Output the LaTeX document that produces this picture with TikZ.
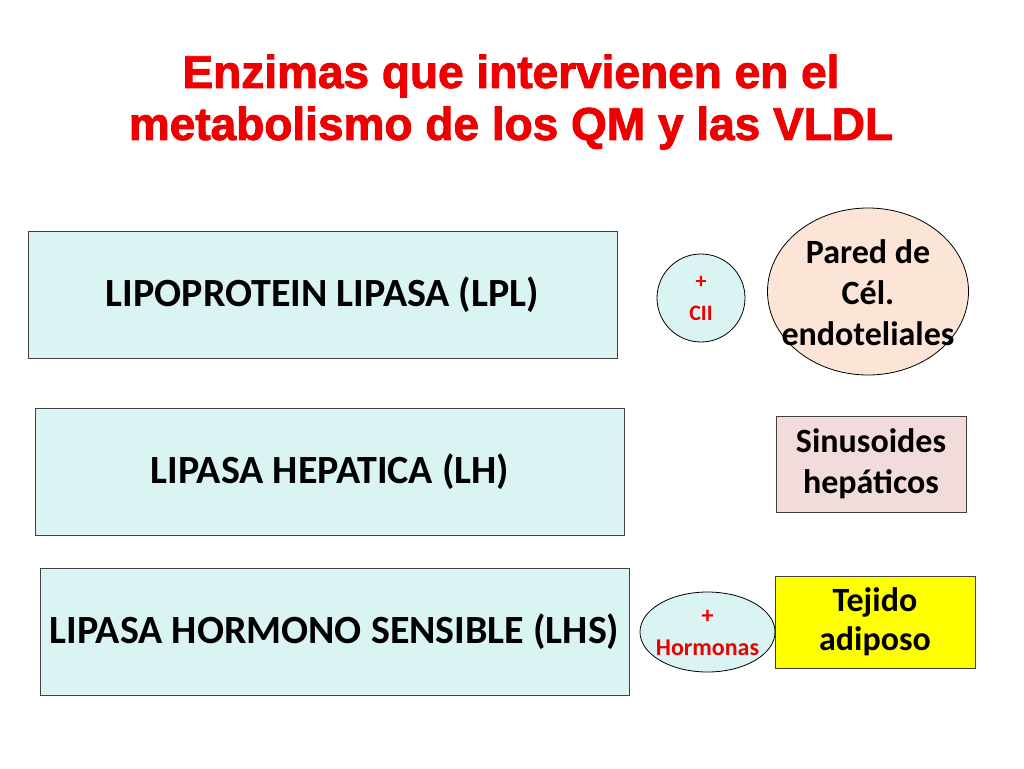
\documentclass[tikz,border=0pt]{standalone}
\usepackage{fontspec}
\setmainfont{Carlito}
\newfontfamily\titlefont{Liberation Sans Bold}[FakeBold=2]
\usetikzlibrary{shapes.geometric}
\definecolor{boxcyan}{RGB}{218,244,244}
\definecolor{peach}{RGB}{252,229,214}
\definecolor{pinkbox}{RGB}{242,220,219}
\definecolor{titlered}{RGB}{238,0,0}
\definecolor{yelbox}{RGB}{255,255,0}
\begin{document}
\begin{tikzpicture}[x=1pt,y=-1pt,
  enzbox/.style={draw=black!75,line width=1pt,fill=boxcyan,minimum width=589pt,minimum height=127pt,inner sep=0pt,font=\bfseries\fontsize{40}{48}\selectfont},
  placebox/.style={draw=black!75,line width=1pt,align=center,inner sep=0pt,font=\bfseries\fontsize{34}{41}\selectfont},
  cofactor/.style={draw=black,line width=0.8pt,fill=boxcyan,align=center,inner sep=0pt,text=titlered,font=\bfseries\fontsize{22}{32}\selectfont}]
\useasboundingbox (0,0) rectangle (1024,768);
\fill[white] (0,0) rectangle (1024,768);
\node[text=titlered,align=center,font=\titlefont\fontsize{46}{52}\selectfont] (title) at (511,102) {Enzimas que intervienen en el\\metabolismo de los QM y las VLDL};
\node[enzbox] (lpl) at (322.5,294.5) {LIPOPROTEIN LIPASA (LPL)};
\node[enzbox] (lh) at (330,472) {LIPASA HEPATICA (LH)};
\node[enzbox] (lhs) at (334.5,631.5) {LIPASA HORMONO SENSIBLE (LHS)};
\node[cofactor,circle,minimum size=88pt] (cii) at (701,298) {+\\CII};
\node[draw=black,line width=0.8pt,fill=peach,ellipse,minimum width=201pt,minimum height=167pt,inner sep=0pt] (pared) at (868,291.5) {};
\node[align=center,font=\bfseries\fontsize{34}{41}\selectfont] (paredtxt) at (868,293) {Pared de\\Cél.\\endoteliales};
\node[placebox,fill=pinkbox,minimum width=190pt,minimum height=96pt] (sinus) at (871,464) {Sinusoides\\hepáticos};
\node[placebox,fill=yelbox,minimum width=200pt,minimum height=92pt,font=\bfseries\fontsize{34}{39}\selectfont] (tejido) at (875,622) {Tejido\\adiposo};
\node[cofactor,ellipse,minimum width=135pt,minimum height=80pt] (horm) at (707.5,632) {};
\node[align=center,text=titlered,font=\bfseries\fontsize{24}{32}\selectfont] (hormtxt) at (707.5,633) {+\\Hormonas};
\end{tikzpicture}
\end{document}
